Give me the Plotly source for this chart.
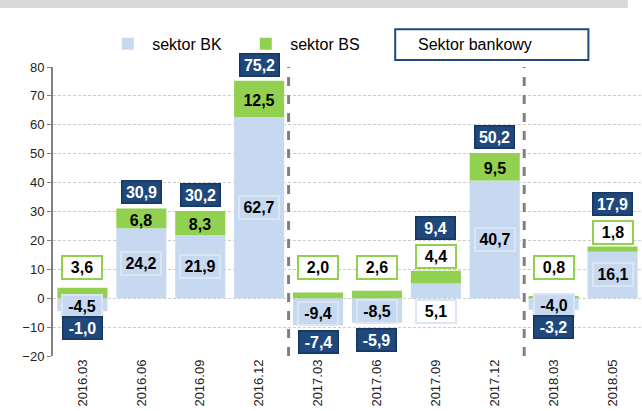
import plotly.graph_objects as go

categories = ["2016.03", "2016.06", "2016.09", "2016.12", "2017.03",
              "2017.06", "2017.09", "2017.12", "2018.03", "2018.05"]
sektor_bk = [-4.5, 24.2, 21.9, 62.7, -9.4, -8.5, 5.1, 40.7, -4.0, 16.1]
sektor_bs = [3.6, 6.8, 8.3, 12.5, 2.0, 2.6, 4.4, 9.5, 0.8, 1.8]
sektor_bankowy = [-1.0, 30.9, 30.2, 75.2, -7.4, -5.9, 9.4, 50.2, -3.2, 17.9]
y_ticks = list(range(-20, 81, 10))

BK_COLOR = "#c6d9f1"
BS_COLOR = "#92d050"
NAVY = "#1f497d"
FONT = "Liberation Sans"

W, H = 642, 411
M = dict(l=53, r=0, t=67, b=55)
xs = list(range(len(categories)))
ymin, ymax = y_ticks[0], y_ticks[-1]
px_per_unit = (H - M["t"] - M["b"]) / (ymax - ymin)


def fmt(v):
    return f"{v:.1f}".replace(".", ",")


fig = go.Figure()
fig.add_trace(go.Bar(x=xs, y=sektor_bk, name="\u00a0sektor BK", marker_color=BK_COLOR,
                     marker_line_width=0, width=0.85, hoverinfo="skip"))
fig.add_trace(go.Bar(x=xs, y=sektor_bs, name="\u00a0sektor BS", marker_color=BS_COLOR,
                     marker_line_width=0, width=0.85, hoverinfo="skip"))

annotations = []
box = dict(width=36, height=19, borderpad=1, borderwidth=2, showarrow=False,
           xref="x", yref="y", font=dict(family=FONT, size=16, color="black"))


def place(y):
    """keep annotation anchor inside the axis range, shifting in pixels if needed"""
    if y > ymax:
        return dict(y=ymax, yshift=(y - ymax) * px_per_unit)
    return dict(y=y)


for i, (bk, bs, tot) in enumerate(zip(sektor_bk, sektor_bs, sektor_bankowy)):
    pos_base = max(bk, 0)
    top = pos_base + bs
    # BK label
    if bk >= 10:
        annotations.append(dict(box, x=i, **place(bk / 2), text=f"<b>{fmt(bk)}</b>",
                                bgcolor=BK_COLOR, bordercolor="#dce6f2"))
    elif bk < 0:
        annotations.append(dict(box, x=i, **place(bk / 2 - 0.5), text=f"<b>{fmt(bk)}</b>",
                                bgcolor=BK_COLOR, bordercolor="#dce6f2"))
    else:
        annotations.append(dict(box, x=i, **place(-4.7), text=f"<b>{fmt(bk)}</b>",
                                bgcolor="white", bordercolor="#dce6f2"))
    # BS label
    if bs >= 5:
        bs_y = pos_base + bs / 2 - 0.6
        annotations.append(dict(box, x=i, **place(bs_y), text=f"<b>{fmt(bs)}</b>",
                                bgcolor="rgba(0,0,0,0)", bordercolor="rgba(0,0,0,0)"))
        tot_y = top + 5.6
    else:
        bs_y = max(top + 4.8, 10.6)
        annotations.append(dict(box, x=i, **place(bs_y), text=f"<b>{fmt(bs)}</b>",
                                bgcolor="white", bordercolor=BS_COLOR))
        tot_y = bs_y + 10.0
    if tot < 0:
        tot_y = min(bk, 0) - 5.8
    annotations.append(dict(box, x=i, **place(tot_y), text=f"<b>{fmt(tot)}</b>",
                            bgcolor=NAVY, bordercolor="#17375e", borderwidth=1.5,
                            font=dict(family=FONT, size=16, color="white")))

# legend box "Sektor bankowy"
annotations.append(dict(xref="paper", yref="paper", x=0.617, y=1.078, xanchor="left",
                        yanchor="middle", showarrow=False, text="Sektor bankowy",
                        font=dict(family=FONT, size=16, color="black")))

shapes = []
# separators between years
for i in range(1, len(categories)):
    if categories[i][:4] != categories[i - 1][:4] and i > 1:
        shapes.append(dict(type="line", xref="x", yref="y", x0=i - 0.5, x1=i - 0.5,
                           y0=ymin, y1=ymax + 3, line=dict(color="#808080", width=3, dash="dash"),
                           layer="above"))
# legend frame
shapes.append(dict(type="rect", xref="paper", yref="paper", x0=0.581, x1=0.909,
                   y0=1.024, y1=1.131, line=dict(color=NAVY, width=2), fillcolor="rgba(0,0,0,0)"))
# title band
shapes.append(dict(type="rect", xref="paper", yref="paper", x0=-0.09, x1=0.976,
                   y0=1.204, y1=1.30, line=dict(width=0), fillcolor="#d9d9d9", layer="above"))

zero_pos = (0 - ymin) / (ymax - ymin)

fig.update_layout(
    width=W, height=H,
    margin=M,
    barmode="relative",
    plot_bgcolor="white", paper_bgcolor="white",
    font=dict(family=FONT, color="black"),
    showlegend=True,
    legend=dict(orientation="h", x=0.093, y=1.08, xanchor="left", yanchor="middle",
                font=dict(family=FONT, size=16, color="black"), bgcolor="rgba(0,0,0,0)",
                itemclick=False, entrywidth=93, entrywidthmode="pixels"),
    xaxis=dict(range=[-0.5, len(categories) - 0.5], tickmode="array", tickvals=xs,
               ticktext=categories, tickangle=-90, showline=False, showgrid=False,
               zeroline=False, ticks="", tickfont=dict(family=FONT, size=13, color="#222")),
    xaxis2=dict(overlaying="x", anchor="free", position=zero_pos, side="bottom",
                range=[-0.5, len(categories) - 0.5], tickmode="array",
                tickvals=[i + 0.5 for i in xs[:-1]], showticklabels=False,
                showline=True, linecolor="black", linewidth=1.5, ticks="outside",
                ticklen=4, tickcolor="#404040", showgrid=False, zeroline=False),
    yaxis=dict(range=[ymin, ymax], tickmode="array", tickvals=y_ticks,
               showline=True, linecolor="#808080", linewidth=2, ticks="outside",
               ticklen=4, tickcolor="#808080", showgrid=True, gridcolor="#cccccc",
               griddash="3px,2px", gridwidth=1, zeroline=False,
               tickfont=dict(family=FONT, size=13, color="#222")),
    annotations=annotations,
    shapes=shapes,
)

fig.write_html("out.html", config={"displayModeBar": False},
               post_script="document.body.style.margin='0';document.body.style.overflow='hidden';")
